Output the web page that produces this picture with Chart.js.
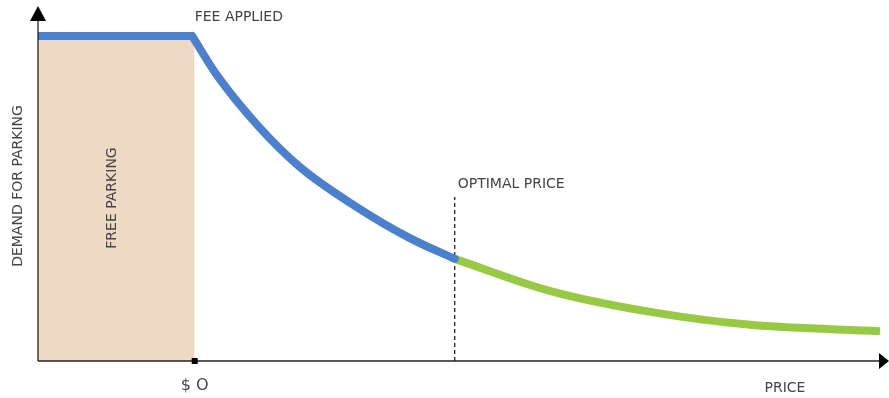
<!DOCTYPE html>
<html>
<head>
<meta charset="utf-8">
<script src="https://cdn.jsdelivr.net/npm/chart.js@4.4.1/dist/chart.umd.min.js"></script>
<style>
  html, body { margin: 0; padding: 0; background: #fff; }
  #wrap { width: 889px; height: 398px; }
</style>
</head>
<body>
<div id="wrap"><canvas id="demandChart"></canvas></div>
<script>
// price on x (0..100), demand on y (0..100)
const freeParking = [{ x: 0, y: 92.6 }, { x: 18.5, y: 92.6 }];
const flatDemand = [{ x: 0, y: 92.6 }, { x: 18.2, y: 92.6 }];
const feeCurve = [
  { x: 18.2, y: 92.6 }, { x: 21.1, y: 81.5 }, { x: 25.9, y: 67.2 }, { x: 30.9, y: 55.3 },
  { x: 37.4, y: 44.2 }, { x: 43.9, y: 35.0 }, { x: 49.2, y: 29.1 }
];
const optimalCurve = [
  { x: 49.2, y: 29.1 }, { x: 60.4, y: 20.0 }, { x: 72.3, y: 14.0 },
  { x: 84.1, y: 10.3 }, { x: 99.4, y: 8.5 }
];
const optimalPrice = 49.2;
const optimalMarkTop = 46.7;
const zeroPrice = 18.5;

const FONT = "'DejaVu Sans', sans-serif";

const axesPlugin = {
  id: 'axesPlugin',
  afterDatasetsDraw(chart) {
    const { ctx, chartArea, scales } = chart;
    const x0 = chartArea.left, y0 = chartArea.bottom;
    ctx.save();
    ctx.strokeStyle = '#222';
    ctx.fillStyle = '#000';
    ctx.lineWidth = 1.3;
    // y axis + arrow
    ctx.beginPath();
    ctx.moveTo(x0, y0);
    ctx.lineTo(x0, 16);
    ctx.stroke();
    ctx.beginPath();
    ctx.moveTo(x0, 6);
    ctx.lineTo(x0 - 8, 21);
    ctx.lineTo(x0 + 8, 21);
    ctx.closePath();
    ctx.fill();
    // x axis + arrow
    ctx.beginPath();
    ctx.moveTo(x0, y0);
    ctx.lineTo(880, y0);
    ctx.stroke();
    ctx.beginPath();
    ctx.moveTo(889, y0);
    ctx.lineTo(879, y0 - 8);
    ctx.lineTo(879, y0 + 8);
    ctx.closePath();
    ctx.fill();
    // tick at $0
    const zx = scales.x.getPixelForValue(zeroPrice);
    ctx.fillRect(zx - 3, y0 - 3, 6, 6);

    // labels
    ctx.fillStyle = '#444';
    ctx.font = '14px ' + FONT;
    ctx.textBaseline = 'middle';
    ctx.textAlign = 'left';
    ctx.fillText('FEE APPLIED', zx, 17);
    ctx.fillText('OPTIMAL PRICE', scales.x.getPixelForValue(optimalPrice) + 3, 184);
    ctx.textAlign = 'center';
    ctx.fillText('PRICE', 785, 388);

    ctx.save();
    ctx.translate(18, 186);
    ctx.rotate(-Math.PI / 2);
    ctx.fillText('DEMAND FOR PARKING', 0, 0);
    ctx.restore();

    ctx.save();
    ctx.translate(112, 198);
    ctx.rotate(-Math.PI / 2);
    ctx.fillText('FREE PARKING', 0, 0);
    ctx.restore();

    ctx.font = '16px ' + FONT;
    ctx.fillText('$ O', zx, 386);

    ctx.restore();
  }
};

const curveStyle = {
  borderWidth: 8,
  cubicInterpolationMode: 'monotone',
  pointRadius: 0,
  fill: false,
  order: 1
};

new Chart(document.getElementById('demandChart'), {
  type: 'line',
  data: {
    datasets: [
      {
        data: freeParking,
        borderWidth: 0,
        pointRadius: 0,
        fill: 'origin',
        backgroundColor: '#eed9c5',
        order: 3
      },
      {
        data: [{ x: optimalPrice, y: 0 }, { x: optimalPrice, y: optimalMarkTop }],
        borderColor: '#111',
        borderWidth: 1.2,
        borderDash: [4, 3],
        pointRadius: 0,
        fill: false,
        order: 2
      },
      { ...curveStyle, data: flatDemand, borderColor: '#4a80cd', tension: 0, cubicInterpolationMode: 'default' },
      { ...curveStyle, data: feeCurve, borderColor: '#4a80cd', borderCapStyle: 'round' },
      { ...curveStyle, data: optimalCurve, borderColor: '#98c945' }
    ]
  },
  options: {
    responsive: true,
    maintainAspectRatio: false,
    animation: false,
    layout: { padding: { left: 38, right: 4, top: 10, bottom: 37 } },
    plugins: { legend: { display: false }, tooltip: { enabled: false } },
    scales: {
      x: { type: 'linear', min: 0, max: 100, display: false },
      y: { min: 0, max: 100, display: false }
    }
  },
  plugins: [axesPlugin]
});
</script>
</body>
</html>
